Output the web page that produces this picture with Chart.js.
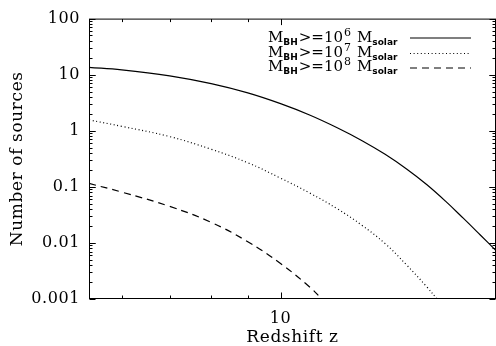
<!DOCTYPE html>
<html>
<head>
<meta charset="utf-8">
<script src="https://cdn.jsdelivr.net/npm/chart.js@4/dist/chart.umd.min.js"></script>
<style>
  html, body { margin: 0; padding: 0; background: #fff; }
</style>
</head>
<body>
<canvas id="zChart" width="496" height="346"></canvas>
<script>
// Number of sources above a black-hole mass threshold, versus redshift
const redshiftM6 = [5.4, 6, 7, 8, 9, 10, 11, 12, 13, 14, 15, 16, 17, 18, 19, 20];
const sourcesM6 = [13.5, 12.2, 9.53, 6.92, 4.73, 3.04, 1.89, 1.13, 0.665, 0.38, 0.208, 0.11, 0.0556, 0.0276, 0.014, 0.0073];

const redshiftM7 = [5.4, 6, 7, 8, 9, 10, 11, 12, 13, 14, 15, 16, 16.55];
const sourcesM7 = [1.56, 1.2, 0.787, 0.468, 0.269, 0.143, 0.0768, 0.0407, 0.0205, 0.00973, 0.00405, 0.00166, 0.001];

const redshiftM8 = [5.4, 6, 7, 8, 9, 10, 11, 11.42];
const sourcesM8 = [0.115, 0.0806, 0.0448, 0.0233, 0.0105, 0.0043, 0.00161, 0.001];

const yTicks = [0.001, 0.01, 0.1, 1, 10, 100];
const yTickLabels = ['0.001', '0.01', '0.1', '1', '10', '100'];
const xTicks = [10];
const xTickLabels = ['10'];
const xMinorTicks = [6, 7, 8, 9];
const massExponents = ['6', '7', '8'];
const lineDashes = [[], [1, 2.6], [7, 5]];

const serif = '"DejaVu Serif", serif';

function toPoints(xs, ys) {
  return xs.map((x, i) => ({ x: x, y: ys[i] }));
}

function series(xs, ys, dash) {
  return {
    data: toPoints(xs, ys),
    borderColor: '#000',
    borderWidth: 1.2,
    borderDash: dash,
    pointRadius: 0,
    tension: 0.4
  };
}

// box around the plot with inward ticks on all four sides, plus the line key
const frameTicks = {
  id: 'frameTicks',
  beforeDraw(chart) {
    // the axis lettering is set a little wider
    chart.ctx.letterSpacing = '0.6px';
  },
  afterDatasetsDraw(chart) {
    const { ctx, chartArea: a, scales: { x, y } } = chart;
    const L = a.left + 0.5, R = a.right - 0.5, T = a.top + 0.5, B = a.bottom - 0.5;
    ctx.save();
    ctx.strokeStyle = '#000';
    ctx.lineWidth = 1;
    ctx.setLineDash([]);
    ctx.strokeRect(L, T, R - L, B - T);

    ctx.beginPath();
    // y: decades and 2..9 in between, left and right
    for (let d = 0.001; d < 99; d *= 10) {
      for (let k = 1; k <= 10; k++) {
        const v = d * k;
        const len = (k === 1 || k === 10) ? 6 : 3;
        const py = Math.round(y.getPixelForValue(v)) + 0.5;
        ctx.moveTo(L, py); ctx.lineTo(L + len, py);
        ctx.moveTo(R, py); ctx.lineTo(R - len, py);
      }
    }
    // x: 6..9 short, 10 long, bottom and top
    xMinorTicks.concat(xTicks).forEach(v => {
      const len = xTicks.includes(v) ? 6 : 3;
      const px = Math.round(x.getPixelForValue(v)) + 0.5;
      ctx.moveTo(px, B); ctx.lineTo(px, B - len);
      ctx.moveTo(px, T); ctx.lineTo(px, T + len);
    });
    ctx.stroke();
    ctx.restore();
  },
  afterDraw(chart) {
    const ctx = chart.ctx;
    const baselines = [42, 56.5, 71];
    const sampleY = [37.5, 53, 67.5];
    ctx.save();
    ctx.letterSpacing = '0px';
    ctx.fillStyle = '#000';
    ctx.textBaseline = 'alphabetic';
    massExponents.forEach((e, i) => {
      const b = baselines[i];
      let cx = 268;
      ctx.font = '15px ' + serif;
      ctx.fillText('M', cx, b);
      cx += ctx.measureText('M').width;
      ctx.font = 'bold 9px "DejaVu Sans", sans-serif';
      ctx.fillText('BH', cx, b + 3);
      cx += ctx.measureText('BH').width + 1;
      ctx.font = '15px ' + serif;
      ctx.fillText('>=10', cx, b);
      cx += ctx.measureText('>=10').width + 1;
      ctx.font = '11px ' + serif;
      ctx.fillText(e, cx, b - 6);
      cx += ctx.measureText(e).width + 6;
      ctx.font = '15px ' + serif;
      ctx.fillText('M', cx, b);
      cx += ctx.measureText('M').width;
      ctx.font = 'bold 9px "DejaVu Sans", sans-serif';
      ctx.fillText('solar', cx, b + 3);

      ctx.beginPath();
      ctx.setLineDash(lineDashes[i]);
      ctx.lineWidth = 1.2;
      ctx.strokeStyle = '#000';
      ctx.moveTo(410, sampleY[i] + 0.5);
      ctx.lineTo(471, sampleY[i] + 0.5);
      ctx.stroke();
    });
    ctx.restore();
  }
};

new Chart(document.getElementById('zChart'), {
  type: 'line',
  data: {
    datasets: [
      series(redshiftM6, sourcesM6, lineDashes[0]),
      series(redshiftM7, sourcesM7, lineDashes[1]),
      series(redshiftM8, sourcesM8, lineDashes[2])
    ]
  },
  options: {
    responsive: false,
    animation: false,
    layout: { padding: { top: 10, right: 0, bottom: 0, left: 0 } },
    plugins: {
      legend: { display: false },
      tooltip: { enabled: false }
    },
    scales: {
      x: {
        type: 'logarithmic',
        min: 5.4,
        max: 20,
        grid: { display: false, drawTicks: false },
        border: { display: false },
        afterBuildTicks: s => { s.ticks = xTicks.map(v => ({ value: v })); },
        afterFit: s => { s.height = 47; },
        ticks: {
          color: '#000',
          padding: 10,
          maxRotation: 0,
          autoSkip: false,
          font: { family: serif, size: 16 },
          callback: v => xTickLabels[xTicks.indexOf(v)]
        },
        title: {
          display: true,
          text: 'Redshift z',
          color: '#000',
          padding: { top: 0, bottom: -2 },
          font: { family: serif, size: 17 }
        }
      },
      y: {
        type: 'logarithmic',
        min: 0.001,
        max: 100,
        grid: { display: false, drawTicks: false },
        border: { display: false },
        afterBuildTicks: s => { s.ticks = yTicks.map(v => ({ value: v })); },
        afterFit: s => { s.width = 89; },
        ticks: {
          color: '#000',
          padding: 9,
          autoSkip: false,
          font: { family: serif, size: 16 },
          callback: v => yTickLabels[yTicks.indexOf(v)]
        },
        title: {
          display: true,
          text: 'Number of sources',
          color: '#000',
          padding: { top: 7, bottom: 0 },
          font: { family: serif, size: 17 }
        }
      }
    }
  },
  plugins: [frameTicks]
});
</script>
</body>
</html>
